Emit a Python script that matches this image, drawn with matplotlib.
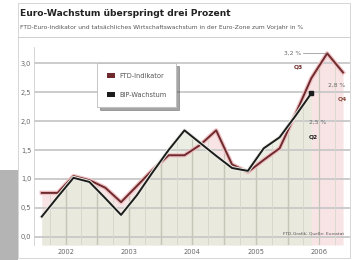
import matplotlib.pyplot as plt
import matplotlib.patheffects as pe
from matplotlib.patches import Rectangle, Patch
import numpy as np

# Quartale 2002 Q1 .. 2006 Q4
quartale = np.arange(20)
jahre = ['2002', '2003', '2004', '2005', '2006']
jahr_mitte = [1.5, 5.5, 9.5, 13.5, 17.5]

ftd = [0.76, 0.76, 1.05, 0.98, 0.85, 0.60, 0.88, 1.16, 1.41, 1.41,
       1.59, 1.84, 1.25, 1.12, 1.33, 1.53, 2.12, 2.74, 3.17, 2.84]
bip = [0.35, 0.69, 1.02, 0.95, 0.67, 0.38, 0.72, 1.12, 1.50, 1.84,
       1.62, 1.40, 1.19, 1.14, 1.53, 1.72, 2.09, 2.48]
y_ticks = [0.0, 0.5, 1.0, 1.5, 2.0, 2.5, 3.0]

rot = '#6e2a2c'
schwarz = '#1c1c1c'

fig = plt.figure(figsize=(3.52, 2.60), dpi=100)
fig.patch.set_facecolor('white')

# grauer Block links unten, Rahmen
fig.patches.append(Rectangle((0, 0), 18/352, 90/260, transform=fig.transFigure,
                             facecolor='#b4b4b4', edgecolor='none'))
fig.patches.append(Rectangle((18/352, 2/260), 332/352, 255/260, transform=fig.transFigure,
                             facecolor='none', edgecolor='#d0d0d0', lw=0.6))
fig.add_artist(plt.Line2D([18/352, 350/352], [1-37/260, 1-37/260],
                          transform=fig.transFigure, color='#c8c8c8', lw=0.6))

fig.text(20/352, 1-13/260, 'Euro-Wachstum überspringt drei Prozent',
         family='DejaVu Sans', weight='bold',
         fontsize=6.6, color='#222222', va='center', ha='left')
fig.text(20/352, 1-27/260,
         'FTD-Euro-Indikator und tatsächliches Wirtschaftswachstum in der Euro-Zone zum Vorjahr in %',
         family='DejaVu Sans', fontsize=4.3,
         color='#555555', va='center', ha='left')

ax = fig.add_axes([34/352, 15/260, 316/352, 198/260])
ax.set_xlim(-0.49, 19.44)
ax.set_ylim(-0.14, 3.28)

x_ftd = quartale[:len(ftd)]
x_bip = quartale[:len(bip)]

f1 = ax.fill_between(x_ftd, ftd, -0.14, color='#f8e4e5', lw=0, zorder=1)
f2 = ax.fill_between(x_bip, bip, -0.14, color='#e7ebdc', alpha=0.8, lw=0, zorder=1.1)

for y in y_ticks:
    ax.axhline(y, color='#c8c8c8', lw=1.3, zorder=1.5)

# senkrechte Linien nur in den Flächen
for f in (f1, f2):
    for xv in np.arange(-0.5, 19.6, 1.0):
        ln = ax.axvline(xv, color='#d6d8cc', lw=0.6, zorder=1.6)
        ln.set_clip_path(f.get_paths()[0], transform=ax.transData)
    for xv in np.arange(1.5, 19, 2.0):
        ln = ax.axvline(xv, color='#c4c7b8', lw=0.9, zorder=1.6)
        ln.set_clip_path(f.get_paths()[0], transform=ax.transData)

ax.plot(x_ftd, ftd, color=rot, lw=1.4, zorder=3,
        path_effects=[pe.Stroke(linewidth=3.2, foreground='#efc3c6'), pe.Normal()])
ax.plot(x_bip, bip, color=schwarz, lw=1.4, zorder=3.2,
        path_effects=[pe.Stroke(linewidth=2.8, foreground='#eceee6'), pe.Normal()])
ax.plot([x_bip[-1]], [bip[-1]], marker='s', ms=3.5, color=schwarz, zorder=4)

# Beschriftungen der Endwerte
ax.text(15.8, ftd[18], '3,2 %', fontsize=4.3, color='#666666', va='center', ha='center', zorder=5)
ax.plot([16.45, 17.9], [ftd[18], ftd[18]], color='#888888', lw=0.5, zorder=4)
ax.text(16.2, 2.93, 'Q3', fontsize=4.3, weight='bold', color=rot, ha='center', va='center', zorder=5)
ax.text(18.6, 2.62, '2,8 %', fontsize=4.3, color='#666666', va='center', ha='center', zorder=5)
ax.text(18.95, 2.38, 'Q4', fontsize=4.3, weight='bold', color='#8a4a3c', ha='center', va='center', zorder=5)
ax.text(17.4, 1.98, '2,5 %', fontsize=4.3, color='#666666', va='center', ha='center', zorder=5)
ax.text(17.1, 1.72, 'Q2', fontsize=4.3, weight='bold', color=schwarz, ha='center', va='center', zorder=5)

ax.text(19.1, 0.06, 'FTD-Grafik; Quelle: Eurostat', fontsize=3.2, color='#555555',
        ha='right', va='center', zorder=5)

ax.set_yticks(y_ticks)
ax.set_yticklabels([f'{v:.1f}'.replace('.', ',') for v in y_ticks])
ax.set_xticks(jahr_mitte)
ax.set_xticklabels(jahre)
ax.tick_params(length=0, labelsize=4.8, colors='#666666', pad=2)
ax.tick_params(axis='x', pad=3)
for s in ax.spines.values():
    s.set_visible(False)
ax.spines['left'].set_visible(True)
ax.spines['left'].set_color('#cfcfcf')
ax.spines['left'].set_linewidth(0.6)

handles = [Patch(facecolor=rot, edgecolor='none'), Patch(facecolor=schwarz, edgecolor='none')]
leg = ax.legend(handles, ['FTD-Indikator', 'BIP-Wachstum'], loc='upper left',
                bbox_to_anchor=(0.19, 0.935), fontsize=4.8, frameon=True, shadow=True,
                handlelength=1.3, handleheight=0.7, labelspacing=2.0, borderpad=1.4,
                handletextpad=0.6, fancybox=False)
leg.get_frame().set_edgecolor('#bdbdbd')
leg.get_frame().set_linewidth(0.6)
for t in leg.get_texts():
    t.set_color('#555555')
leg.set_zorder(6)

fig.savefig('out.png', dpi=100)
